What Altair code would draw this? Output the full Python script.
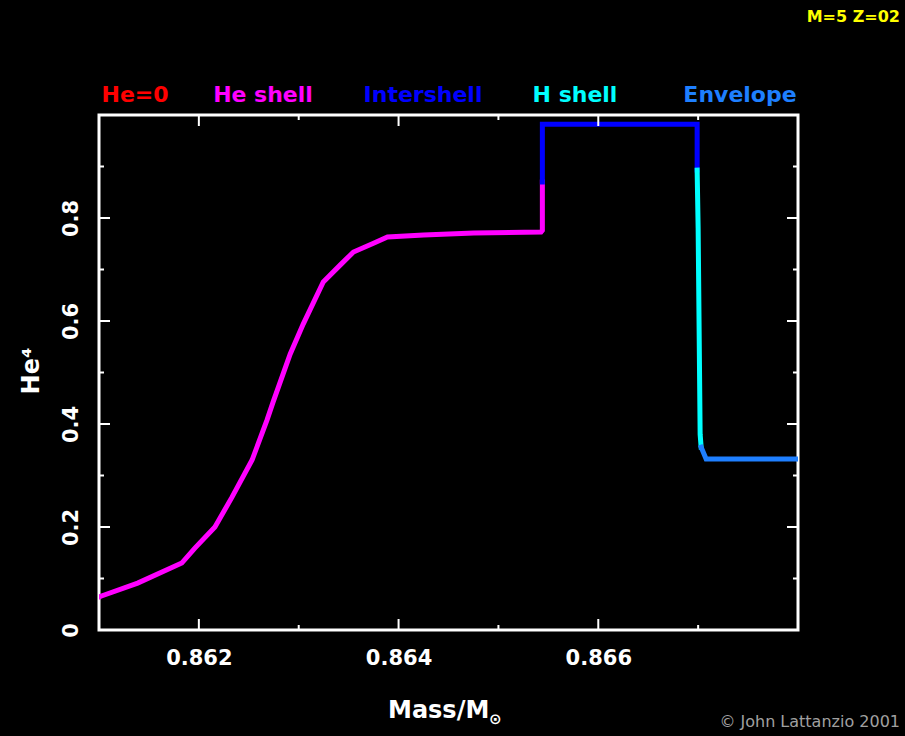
import altair as alt
import pandas as pd

# ---------------- data ----------------
series_names = ["He=0", "He shell", "Intershell", "H shell", "Envelope"]
series_colors = ["#ff0000", "#ff00ff", "#0000ff", "#00ffff", "#1e7fff"]

he_shell_x = [0.861000, 0.861025, 0.861387, 0.861829, 0.861960, 0.862161, 0.862332,
              0.862533, 0.862683, 0.862744, 0.862915, 0.863045, 0.863246, 0.863417,
              0.863548, 0.863749, 0.863889, 0.864251, 0.864754, 0.865427, 0.865440,
              0.865440]
he_shell_y = [0.064, 0.066, 0.091, 0.130, 0.159, 0.200, 0.258,
              0.330, 0.408, 0.443, 0.536, 0.594, 0.676, 0.709,
              0.734, 0.751, 0.763, 0.767, 0.771, 0.773, 0.776,
              0.870]

intershell_x = [0.865440, 0.865440, 0.866990, 0.866990]
intershell_y = [0.870, 0.982, 0.982, 0.893]

h_shell_x = [0.866990, 0.867000, 0.867020, 0.867030]
h_shell_y = [0.893, 0.780, 0.380, 0.355]

envelope_x = [0.867030, 0.867080, 0.868000]
envelope_y = [0.355, 0.332, 0.332]

x_major = [0.862, 0.864, 0.866]
x_minor = [0.863, 0.865, 0.867]
y_major = [0.2, 0.4, 0.6, 0.8]
y_minor = [0.1, 0.3, 0.5, 0.7, 0.9]
y_labels = [0, 0.2, 0.4, 0.6, 0.8]

# ---------------- build table ----------------
rows = []
for name, xs, ys in [("He shell", he_shell_x, he_shell_y),
                     ("Intershell", intershell_x, intershell_y),
                     ("H shell", h_shell_x, h_shell_y),
                     ("Envelope", envelope_x, envelope_y)]:
    for i, (xv, yv) in enumerate(zip(xs, ys)):
        rows.append({"zone": name, "mass": xv, "he4": yv, "order": i})
df = pd.DataFrame(rows)

W, H = 699, 515
FONT = "DejaVu Sans"

xscale = alt.Scale(domain=[0.861, 0.868], nice=False, zero=False)
yscale = alt.Scale(domain=[0, 1], nice=False, zero=True)

line = alt.Chart(df).mark_line(strokeWidth=5, strokeCap="square", strokeJoin="miter", clip=True).encode(
    x=alt.X("mass:Q", scale=xscale,
            axis=alt.Axis(values=x_major, format=".3f", tickSize=0, domain=False, grid=False,
                          labelColor="white", labelFont=FONT, labelFontSize=21,
                          labelFontWeight="bold", labelPadding=17, title=None)),
    y=alt.Y("he4:Q", scale=yscale,
            axis=alt.Axis(values=y_labels, tickSize=0, domain=False, grid=False,
                          labelExpr="datum.value == 0 ? '0' : format(datum.value, '.1f')",
                          labelColor="white", labelFont=FONT, labelFontSize=21,
                          labelFontWeight="bold", labelAngle=270, labelAlign="center",
                          labelBaseline="bottom", labelPadding=18, title=None)),
    color=alt.Color("zone:N", scale=alt.Scale(domain=series_names, range=series_colors), legend=None),
    detail="zone:N",
    order="order:Q",
)

# tick marks (inward, on all four sides)
def xticks(vals, length):
    d = pd.DataFrame({"v": vals})
    bottom = alt.Chart(d).mark_rule(color="white", strokeWidth=2).encode(
        x=alt.X("v:Q", scale=xscale), y=alt.value(H), y2=alt.value(H - length))
    top = alt.Chart(d).mark_rule(color="white", strokeWidth=2).encode(
        x=alt.X("v:Q", scale=xscale), y=alt.value(0), y2=alt.value(length))
    return [bottom, top]

def yticks(vals, length):
    d = pd.DataFrame({"v": vals})
    left = alt.Chart(d).mark_rule(color="white", strokeWidth=2).encode(
        y=alt.Y("v:Q", scale=yscale), x=alt.value(0), x2=alt.value(length))
    right = alt.Chart(d).mark_rule(color="white", strokeWidth=2).encode(
        y=alt.Y("v:Q", scale=yscale), x=alt.value(W), x2=alt.value(W - length))
    return [left, right]

ticks = xticks(x_major, 11) + xticks(x_minor, 5) + yticks(y_major, 11) + yticks(y_minor, 5)

one = pd.DataFrame({"a": [0]})

def label(text, x, y, color="white", size=22, weight="bold", align="center", angle=0, font=FONT):
    return alt.Chart(one).mark_text(text=text, color=color, fontSize=size, fontWeight=weight,
                                    align=align, baseline="middle", angle=angle, font=font).encode(
        x=alt.value(x), y=alt.value(y))

legend_x = [36, 164, 324, 476, 641]
legend_layers = [label(n, lx, -20, color=c, size=22)
                 for n, c, lx in zip(series_names, series_colors, legend_x)]

texts = legend_layers + [
    label("M=5 Z=02", 801, -98, color="#ffff00", size=16, align="right"),
    label("\u00a9 John Lattanzio 2001", 801, 607, color="#a0a0a0", size=16, weight="normal", align="right"),
    label("Mass/M", 289, 596, size=24, align="left"),
    label("\u2299", 390, 604, size=15, align="left"),
    label("He\u2074", -67, 256, size=24, angle=270),
]

chart = alt.layer(line, *ticks, *texts).properties(
    width=W, height=H,
    background="black",
    padding={"left": 99, "top": 115, "right": 107, "bottom": 106},
    autosize=alt.AutoSizeParams(type="none"),
).configure_view(stroke="white", strokeWidth=3)

chart.save("out.html", embed_options={"renderer": "svg", "actions": False})
